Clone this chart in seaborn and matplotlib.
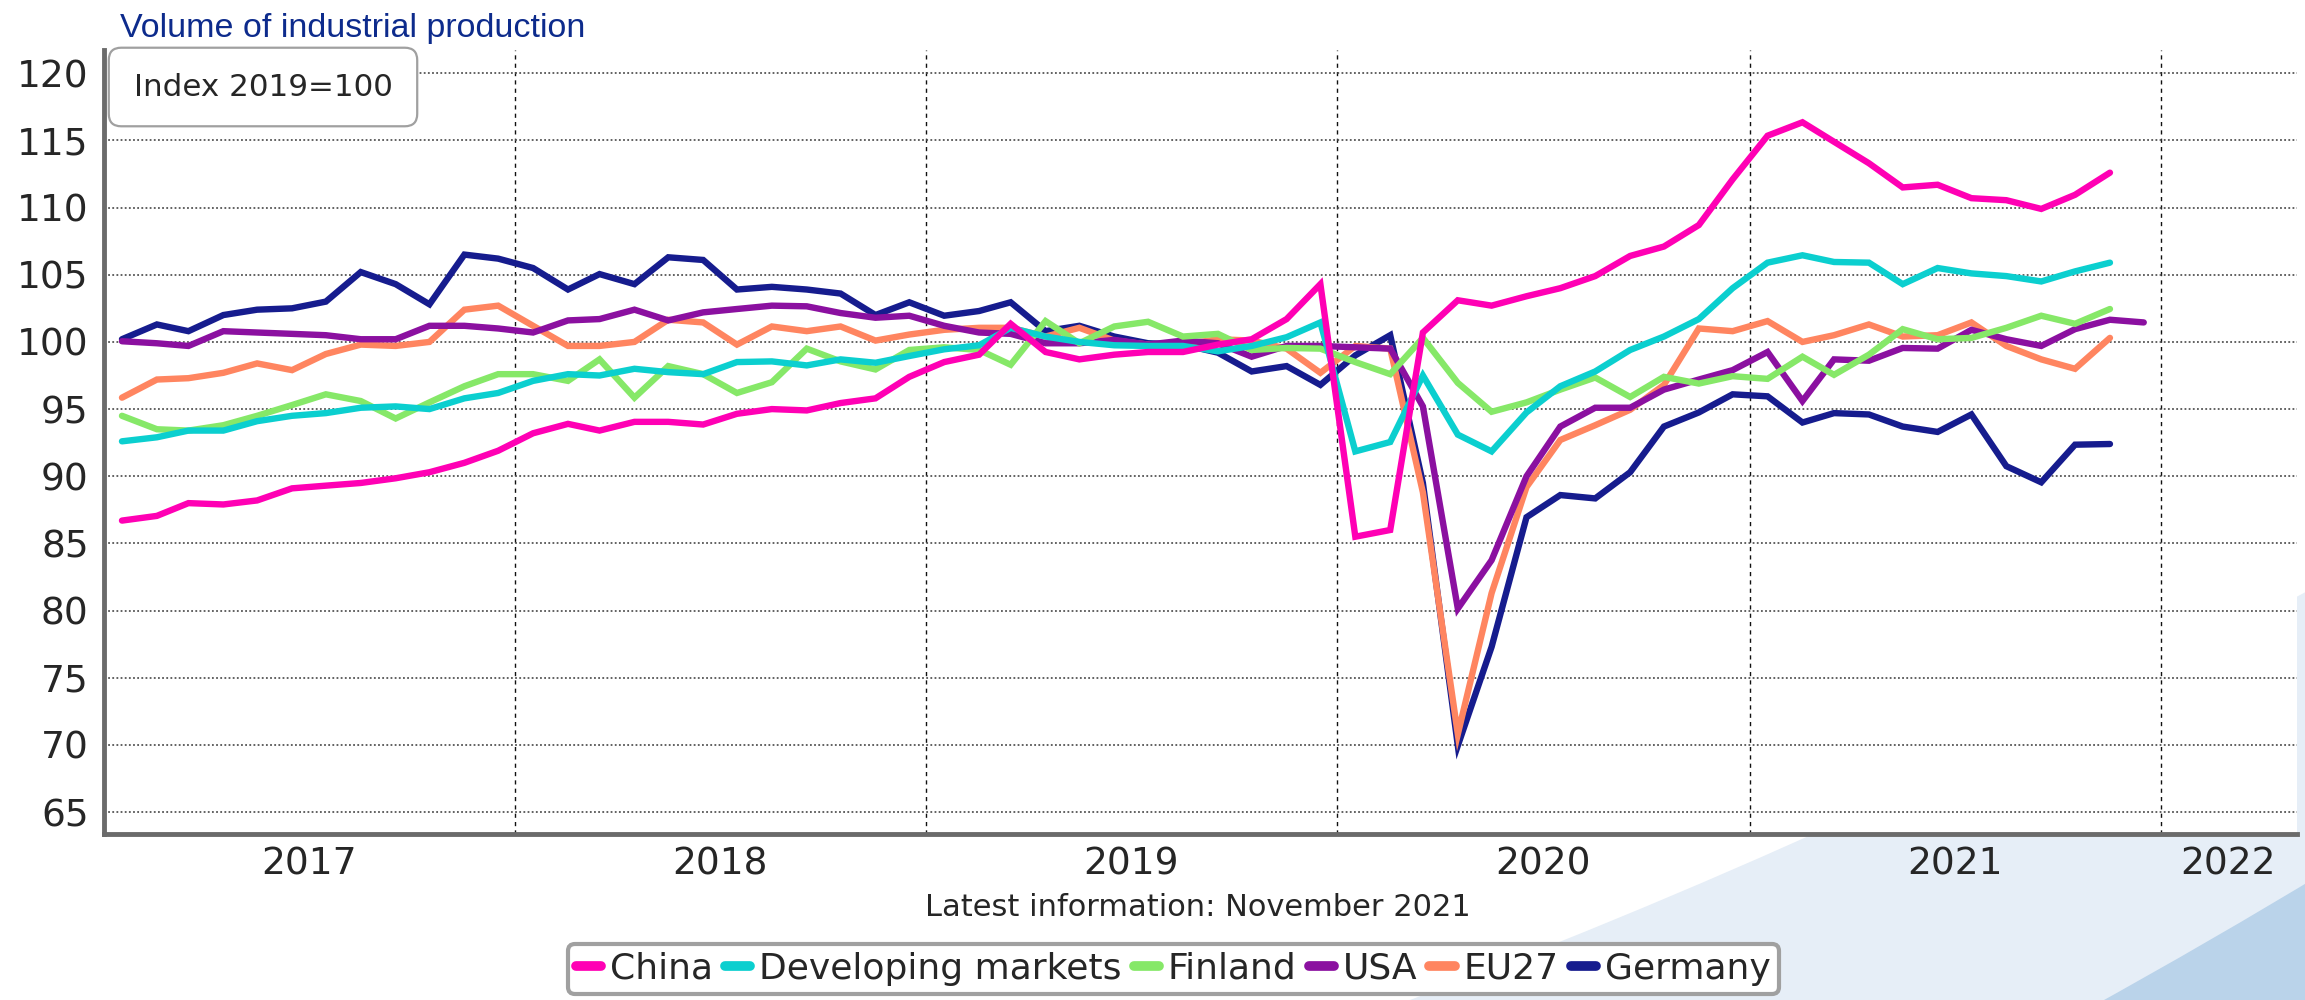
import pandas as pd
import numpy as np
import matplotlib
matplotlib.use('Agg')
import matplotlib.pyplot as plt
import matplotlib.dates as mdates
from matplotlib.ticker import FixedLocator, FixedFormatter, NullFormatter
from matplotlib.path import Path
from matplotlib.patches import PathPatch
import seaborn as sns

# Monthly index values, 2019=100, Jan 2017 onwards
china = [86.7, 87.05, 88.0, 87.9, 88.2, 89.1, 89.3, 89.5, 89.85, 90.3, 91.0, 91.9,
         93.2, 93.9, 93.4, 94.05, 94.05, 93.85, 94.65, 95.0, 94.9, 95.45, 95.8, 97.4,
         98.5, 99.05, 101.35, 99.25, 98.7, 99.05, 99.25, 99.25, 99.8, 100.2, 101.7, 104.3,
         85.5, 86.0, 100.7, 103.1, 102.7, 103.4, 104.0, 104.9, 106.4, 107.1, 108.7, 112.1,
         115.35, 116.35, 114.9, 113.3, 111.5, 111.7, 110.7, 110.55, 109.9, 110.95, 112.6]
developing = [92.6, 92.9, 93.4, 93.4, 94.1, 94.5, 94.7, 95.1, 95.2, 95.0, 95.8, 96.2,
              97.1, 97.6, 97.5, 98.0, 97.75, 97.6, 98.5, 98.55, 98.25, 98.7, 98.45, 98.95,
              99.45, 99.75, 101.05, 100.4, 100.0, 99.75, 99.7, 99.7, 99.3, 99.7, 100.35, 101.45,
              91.85, 92.55, 97.5, 93.1, 91.85, 94.75, 96.7, 97.8, 99.4, 100.4, 101.7, 104.0,
              105.9, 106.45, 105.95, 105.9, 104.3, 105.5, 105.1, 104.9, 104.5, 105.25, 105.9]
finland = [94.5, 93.5, 93.4, 93.8, 94.5, 95.3, 96.1, 95.6, 94.3, 95.5, 96.7, 97.6,
           97.6, 97.1, 98.7, 95.85, 98.2, 97.6, 96.2, 97.0, 99.5, 98.55, 97.95, 99.4,
           99.6, 99.4, 98.3, 101.55, 99.9, 101.15, 101.5, 100.4, 100.6, 99.4, 99.55, 99.5,
           98.5, 97.6, 100.3, 96.95, 94.8, 95.5, 96.45, 97.35, 95.9, 97.4, 96.9, 97.45,
           97.25, 98.9, 97.55, 99.05, 100.95, 100.2, 100.3, 101.05, 101.95, 101.35, 102.45]
usa = [100.05, 99.9, 99.7, 100.8, 100.7, 100.6, 100.5, 100.2, 100.2, 101.2, 101.2, 101.0,
       100.7, 101.6, 101.7, 102.4, 101.6, 102.2, 102.45, 102.7, 102.65, 102.15, 101.8, 101.95,
       101.2, 100.7, 100.6, 99.9, 99.9, 100.15, 99.8, 100.1, 99.9, 98.9, 99.7, 99.7,
       99.6, 99.5, 95.2, 80.15, 83.75, 90.0, 93.7, 95.1, 95.1, 96.45, 97.2, 97.9,
       99.25, 95.6, 98.7, 98.6, 99.55, 99.5, 100.9, 100.2, 99.7, 100.95, 101.65, 101.45]
eu27 = [95.85, 97.2, 97.3, 97.7, 98.4, 97.9, 99.1, 99.8, 99.7, 100.0, 102.4, 102.7,
        101.2, 99.7, 99.7, 100.0, 101.65, 101.45, 99.8, 101.15, 100.8, 101.15, 100.1, 100.55,
        100.9, 101.05, 101.05, 100.4, 101.05, 100.1, 99.8, 99.8, 100.2, 100.1, 99.5, 97.7,
        99.7, 99.5, 88.8, 70.8, 81.3, 89.2, 92.7, 93.8, 94.95, 96.8, 101.0, 100.8,
        101.55, 100.0, 100.5, 101.3, 100.4, 100.5, 101.45, 99.7, 98.7, 98.0, 100.3]
germany = [100.2, 101.3, 100.8, 102.0, 102.4, 102.5, 103.0, 105.2, 104.3, 102.8, 106.5, 106.2,
           105.5, 103.9, 105.05, 104.3, 106.3, 106.1, 103.9, 104.1, 103.9, 103.6, 102.0, 102.95,
           101.95, 102.3, 102.95, 100.8, 101.2, 100.4, 99.9, 99.8, 99.2, 97.8, 98.2, 96.8,
           99.0, 100.5, 89.5, 69.95, 77.3, 86.95, 88.6, 88.35, 90.3, 93.7, 94.75, 96.1,
           95.95, 94.0, 94.7, 94.6, 93.7, 93.3, 94.6, 90.75, 89.55, 92.35, 92.4]

series_names = ['China', 'Developing markets', 'Finland', 'USA', 'EU27', 'Germany']
series_values = [china, developing, finland, usa, eu27, germany]
colors = ['#FF00B4', '#0BCFCF', '#86E868', '#8B10A0', '#FF8560', '#161C8E']
year_labels = ['2017', '2018', '2019', '2020', '2021', '2022']

# mid-month dates
months = pd.date_range('2017-01-01', periods=60, freq='MS') + pd.Timedelta(days=16)

rows = []
for name, vals in zip(series_names, series_values):
    rows.append(pd.DataFrame({'date': months[:len(vals)], 'value': vals, 'series': name}))
df = pd.concat(rows, ignore_index=True)

sns.set_style('white')
plt.rcParams['font.family'] = ['DejaVu Sans']

fig = plt.figure(figsize=(23.05, 10), dpi=100)
ax = fig.add_axes([0.0451, 0.166, 0.9514, 0.784])

# decorative background swoosh in the lower right corner
light = Path([(0.60, -0.01), (0.80, 0.16), (1.01, 0.42), (1.01, -0.01), (0.60, -0.01)],
             [Path.MOVETO, Path.CURVE3, Path.CURVE3, Path.LINETO, Path.CLOSEPOLY])
dark = Path([(0.905, -0.01), (0.960, 0.06), (1.01, 0.13), (1.01, -0.01), (0.905, -0.01)],
            [Path.MOVETO, Path.CURVE3, Path.CURVE3, Path.LINETO, Path.CLOSEPOLY])
fig.patches.append(PathPatch(light, transform=fig.transFigure, facecolor='#E6EEF7',
                             edgecolor='none', zorder=-10))
fig.patches.append(PathPatch(dark, transform=fig.transFigure, facecolor='#BAD3EA',
                             edgecolor='none', zorder=-9))

palette = dict(zip(series_names, colors))
# draw in reverse so China ends on top
for name in series_names[::-1]:
    sns.lineplot(data=df[df['series'] == name], x='date', y='value', color=palette[name],
                 linewidth=4.6, ax=ax, label=name, solid_joinstyle='miter')

ax.set_ylim(63.37, 121.73)
ax.set_xlim(pd.Timestamp('2017-01-01'), pd.Timestamp('2022-05-02'))
ax.set_yticks(np.arange(65, 121, 5))
ax.set_xlabel('')
ax.set_ylabel('')

# year boundaries as major ticks, labels centred in each year
ax.xaxis.set_major_locator(mdates.YearLocator())
ax.xaxis.set_major_formatter(NullFormatter())
label_pos = [mdates.date2num(pd.Timestamp(f'{y}-07-02')) for y in range(2017, 2022)]
label_pos.append(mdates.date2num(pd.Timestamp('2022-03-02')))
ax.xaxis.set_minor_locator(FixedLocator(label_pos))
ax.xaxis.set_minor_formatter(FixedFormatter(year_labels))
ax.tick_params(axis='x', which='major', length=7, width=1, color='#222222', direction='out')
ax.tick_params(axis='x', which='minor', length=0, labelsize=27, pad=9)
ax.tick_params(axis='y', length=6, width=1, color='#555555', labelsize=27, pad=5)

ax.grid(axis='y', linestyle=(0, (1, 1.3)), color='#555555', linewidth=1.3)
ax.grid(axis='x', which='major', linestyle=(0, (3, 3)), color='#111111', linewidth=1.0)
ax.set_axisbelow(True)

for side in ['top', 'right']:
    ax.spines[side].set_visible(False)
for side in ['left', 'bottom']:
    ax.spines[side].set_color('#6b6b6b')
    ax.spines[side].set_linewidth(3.5)

fig.text(0.052, 0.963, 'Volume of industrial production', color='#0D2B8C', fontsize=24.5,
         family=['Liberation Sans'], ha='left', va='baseline')

fig.text(0.1141, 0.913, 'Index 2019=100', fontsize=22.3, ha='center', va='center',
         bbox=dict(boxstyle='round,pad=0.8,rounding_size=0.4', facecolor='white',
                   edgecolor='#a0a0a0', linewidth=1.6))

fig.text(0.5197, 0.093, 'Latest information: November 2021', fontsize=22,
         ha='center', va='center')

handles, labels = ax.get_legend_handles_labels()
order = [labels.index(n) for n in series_names]
leg = fig.legend([handles[i] for i in order], series_names, loc='upper center',
                 bbox_to_anchor=(0.509, 0.056), ncol=6, fontsize=26, frameon=True,
                 fancybox=True, handlelength=0.7, handletextpad=0.25, columnspacing=0.33,
                 borderpad=0.22, borderaxespad=0)
ax.get_legend().remove()
leg.get_frame().set_edgecolor('#a0a0a0')
leg.get_frame().set_linewidth(3)
leg.get_frame().set_alpha(1)
for line in leg.get_lines():
    line.set_linewidth(7)

fig.savefig('out.png', dpi=100)
